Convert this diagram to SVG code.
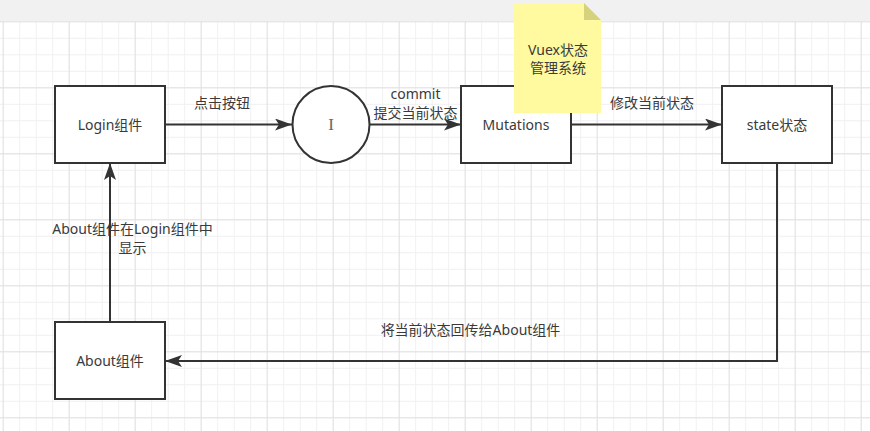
<svg xmlns="http://www.w3.org/2000/svg" width="870" height="431" viewBox="0 0 870 431">
<defs>
<pattern id="minor" patternUnits="userSpaceOnUse" x="2.7" y="21.3" width="16.5" height="16.5">
<path d="M0 0.5 H16.5 M0.5 0 V16.5" fill="none" stroke="#f0f0f0" stroke-width="1"/>
</pattern>
<pattern id="major" patternUnits="userSpaceOnUse" x="2.7" y="21.3" width="66" height="66">
<path d="M0 0.5 H66 M0.5 0 V66" fill="none" stroke="#e2e2e2" stroke-width="1"/>
</pattern>
<marker id="arrow" markerUnits="userSpaceOnUse" viewBox="0 0 17 12" refX="17" refY="6" markerWidth="17" markerHeight="12" orient="auto">
<path d="M0 0 L17 6 L0 12 L4 6 Z" fill="#333333"/>
</marker>
<style>
.box{fill:#ffffff;stroke:#333333;stroke-width:2}
.lbl{font-family:"Noto Sans","Noto Sans CJK SC",sans-serif;font-size:14px;fill:#3a3a3a;text-anchor:middle}
.edge{fill:none;stroke:#333333;stroke-width:2;marker-end:url(#arrow)}
</style>
</defs>
<rect x="0" y="0" width="870" height="431" fill="#ffffff"/>
<rect x="0" y="21" width="870" height="410" fill="url(#minor)"/>
<rect x="0" y="21" width="870" height="410" fill="url(#major)"/>
<rect x="0" y="0" width="870" height="21" fill="#f1f1f1"/>
<g id="connectors">
<g id="e1"><path class="edge" d="M165 124.5 H292"/><text class="lbl" x="222" y="107.5">点击按钮</text></g>
<g id="e2"><path class="edge" d="M370 124.5 H461"/><text class="lbl" x="415.5" y="98.5">commit<tspan x="415.5" dy="19.5">提交当前状态</tspan></text></g>
<g id="e3"><path class="edge" d="M571 124.5 H722"/><text class="lbl" x="652" y="108">修改当前状态</text></g>
<g id="e4"><path class="edge" d="M777 163 V361 H165"/><text class="lbl" x="470.5" y="335">将当前状态回传给About组件</text></g>
<g id="e5"><path class="edge" d="M110 322 V163"/><text class="lbl" x="132.5" y="233.5">About组件在Login组件中<tspan x="132.5" dy="19.5">显示</tspan></text></g>
</g>
<g id="login"><rect class="box" x="55" y="86" width="110" height="77"/><text class="lbl" x="110" y="129.5">Login组件</text></g>
<g id="cursor"><circle cx="331" cy="124.5" r="38.5" fill="#ffffff" stroke="#333333" stroke-width="2"/><text x="331" y="129.5" font-family="Liberation Serif,serif" font-size="17" fill="#666666" text-anchor="middle">I</text></g>
<g id="mutations"><rect class="box" x="461" y="86" width="110" height="77"/><text class="lbl" x="516" y="129.5">Mutations</text></g>
<g id="state"><rect class="box" x="722" y="86" width="110" height="77"/><text class="lbl" x="777" y="129.5">state状态</text></g>
<g id="about"><rect class="box" x="55" y="322" width="110" height="77"/><text class="lbl" x="110" y="365.5">About组件</text></g>
<g id="note"><path d="M514 3 H584 L601 20 V113 H514 Z" fill="#fffaa0"/><path d="M584 3 V20 H601 Z" fill="#d6d17c"/><text class="lbl" x="558" y="55">Vuex状态<tspan x="558" dy="18">管理系统</tspan></text></g>
</svg>
